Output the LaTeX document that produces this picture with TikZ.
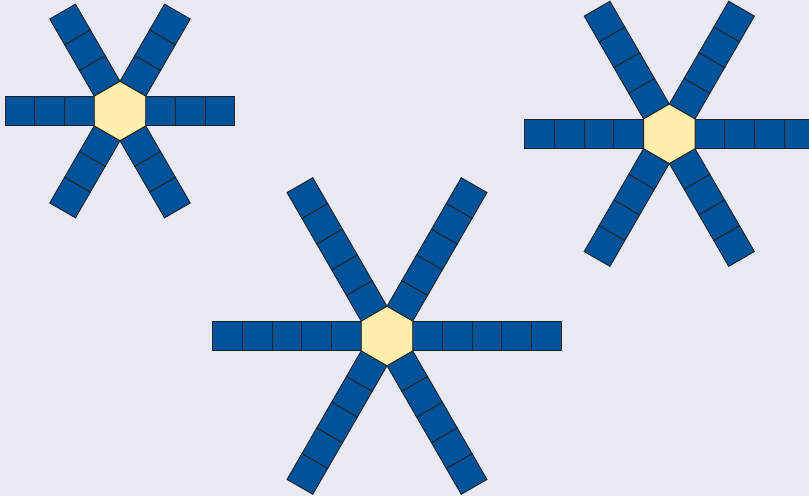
\documentclass[tikz,border=0pt]{standalone}
\definecolor{bg}{HTML}{E7E9F4}
\definecolor{armblue}{HTML}{00539B}
\definecolor{hexfill}{HTML}{FFEDAB}
\definecolor{edge}{HTML}{222222}
\begin{document}
\begin{tikzpicture}[x=1pt,y=-1pt,
  sq/.style={fill=armblue,draw=edge,line width=0.9pt,line join=miter},
  hexa/.style={fill=hexfill,draw=edge,line width=0.9pt,line join=miter}]
\fill[bg] (0,0) rectangle (809,496);
\useasboundingbox (0,0) rectangle (809,496);
\clip (0,0) rectangle (809,496);
\def\s{29.7}
\def\ap{25.7}
% flakes: center x, center y, squares per arm
\foreach \cx/\cy/\n in {120/111/3, 669.3/133.8/4, 387/336/5}{
  \foreach \a in {0,60,120,180,240,300}{
    \foreach \k in {1,...,\n}{
      \draw[sq,shift={(\cx,\cy)},rotate=\a]
        ({\ap+(\k-1)*\s},{-\s/2}) rectangle ({\ap+\k*\s},{\s/2});
    }
  }
  \draw[hexa,shift={(\cx,\cy)}]
    (90:\s) -- (150:\s) -- (210:\s) -- (270:\s) -- (330:\s) -- (30:\s) -- cycle;
}
\end{tikzpicture}
\end{document}
